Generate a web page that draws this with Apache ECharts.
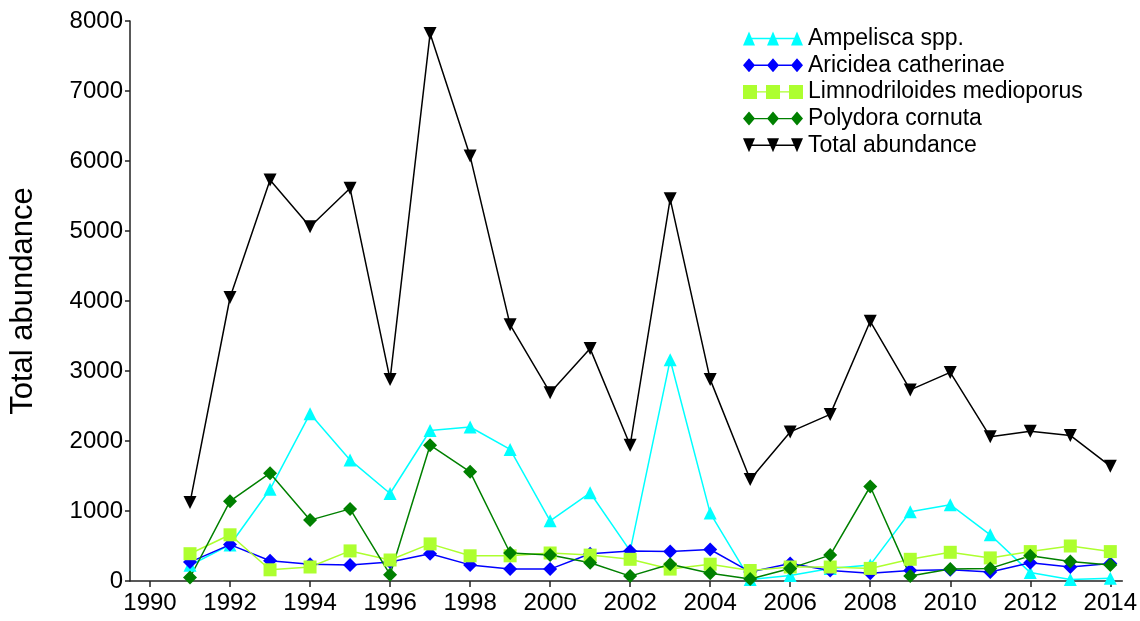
<!DOCTYPE html>
<html>
<head>
<meta charset="utf-8">
<script src="https://cdn.jsdelivr.net/npm/echarts@6/dist/echarts.min.js"></script>
<style>
  html, body { margin: 0; padding: 0; background: #fff; }
  #chart { width: 1140px; height: 621px; }
</style>
</head>
<body>
<div id="chart"></div>
<script>
// Survey years and abundance per taxon
const years = [1991, 1992, 1993, 1994, 1995, 1996, 1997, 1998, 1999, 2000, 2001, 2002,
               2003, 2004, 2005, 2006, 2007, 2008, 2009, 2010, 2011, 2012, 2013, 2014];
const ampelisca = [225, 515, 1310, 2390, 1730, 1250, 2150, 2200, 1880, 860, 1260, 430,
                   3160, 970, 20, 80, 180, 230, 990, 1090, 660, 120, 20, 40];
const aricidea = [270, 520, 290, 240, 230, 270, 390, 230, 170, 170, 390, 430,
                  420, 450, 130, 250, 150, 110, 150, 160, 130, 260, 200, 250];
const limnodriloides = [390, 660, 160, 200, 430, 300, 530, 360, 360, 400, 370, 310,
                        170, 240, 150, 200, 200, 180, 310, 410, 330, 420, 500, 420];
const polydora = [50, 1140, 1540, 870, 1030, 90, 1940, 1560, 400, 370, 260, 70,
                  240, 110, 30, 180, 370, 1350, 70, 170, 180, 360, 280, 230];
const totalAbundance = [1120, 4050, 5730, 5060, 5610, 2880, 7820, 6070, 3660, 2690, 3320, 1940,
                        5460, 2880, 1450, 2130, 2380, 3710, 2730, 2980, 2060, 2140, 2080, 1640];
const seriesNames = ['Ampelisca spp.', 'Aricidea catherinae', 'Limnodriloides medioporus',
                     'Polydora cornuta', 'Total abundance'];
const xTickYears = [1990, 1992, 1994, 1996, 1998, 2000, 2002, 2004, 2006, 2008, 2010, 2012, 2014];

const FONT = '"Liberation Sans", Arial, sans-serif';

// Legend icons: three markers joined by a line
const icons = {
  triUp: 'path://M0,14L6,0L12,14Z M24,14L30,0L36,14Z M48,14L54,0L60,14Z M6,6.3H54V7.7H6Z',
  triDown: 'path://M0,0L12,0L6,14Z M24,0L36,0L30,14Z M48,0L60,0L54,14Z M6,6.3H54V7.7H6Z',
  diamond: 'path://M6,0L12,7L6,14L0,7Z M30,0L36,7L30,14L24,7Z M54,0L60,7L54,14L48,7Z M6,6.3H54V7.7H6Z',
  square: 'path://M0,0H14V14H0Z M23,0H37V14H23Z M46,0H60V14H46Z M6,6.3H54V7.7H6Z'
};

function pairs(values) {
  return years.map((y, i) => [y, values[i]]);
}

function lineSeries(name, values, color, symbol, size, rotate) {
  return {
    name: name,
    type: 'line',
    data: pairs(values),
    symbol: symbol,
    symbolSize: size,
    symbolRotate: rotate || 0,
    lineStyle: { color: color, width: 1.5 },
    itemStyle: { color: color, borderWidth: 0 },
    emphasis: { disabled: true },
    animation: false
  };
}

const chart = echarts.init(document.getElementById('chart'), null, { renderer: 'canvas' });

chart.setOption({
  backgroundColor: '#ffffff',
  animation: false,
  grid: { left: 130, right: 16, top: 21, bottom: 40, containLabel: false },
  legend: {
    orient: 'vertical',
    left: 738,
    top: 22,
    itemWidth: 60,
    itemHeight: 14,
    itemGap: 3.7,
    selectedMode: false,
    textStyle: { fontFamily: FONT, fontSize: 23, color: '#000' },
    data: [
      { name: seriesNames[0], icon: icons.triUp },
      { name: seriesNames[1], icon: icons.diamond },
      { name: seriesNames[2], icon: icons.square },
      { name: seriesNames[3], icon: icons.diamond },
      { name: seriesNames[4], icon: icons.triDown }
    ]
  },
  xAxis: {
    type: 'value',
    min: 1989.5,
    max: 2014.3,
    splitLine: { show: false },
    axisLine: { show: true, onZero: false, lineStyle: { color: '#222', width: 1.5 } },
    axisTick: { show: true, length: 6, customValues: xTickYears, lineStyle: { color: '#222', width: 1.5 } },
    axisLabel: {
      customValues: xTickYears,
      margin: 10,
      fontFamily: FONT, fontSize: 24, color: '#000',
      formatter: v => String(v)
    }
  },
  yAxis: {
    type: 'value',
    min: 0,
    max: 8000,
    interval: 1000,
    name: 'Total abundance',
    nameLocation: 'middle',
    nameGap: 91,
    nameRotate: 90,
    nameTextStyle: { fontFamily: FONT, fontSize: 31, color: '#000' },
    splitLine: { show: false },
    axisLine: { show: true, lineStyle: { color: '#222', width: 1.5 } },
    axisTick: { show: true, length: 5, lineStyle: { color: '#222', width: 1.5 } },
    axisLabel: {
      margin: 7, fontFamily: FONT, fontSize: 24, color: '#000',
      formatter: v => String(v)
    }
  },
  series: [
    lineSeries(seriesNames[0], ampelisca, '#00ffff', 'triangle', 13),
    lineSeries(seriesNames[1], aricidea, '#0000ff', 'diamond', 14),
    lineSeries(seriesNames[2], limnodriloides, '#adff2f', 'rect', 13),
    lineSeries(seriesNames[3], polydora, '#008000', 'diamond', 14),
    lineSeries(seriesNames[4], totalAbundance, '#000000', 'triangle', 13, 180)
  ]
});
</script>
</body>
</html>
